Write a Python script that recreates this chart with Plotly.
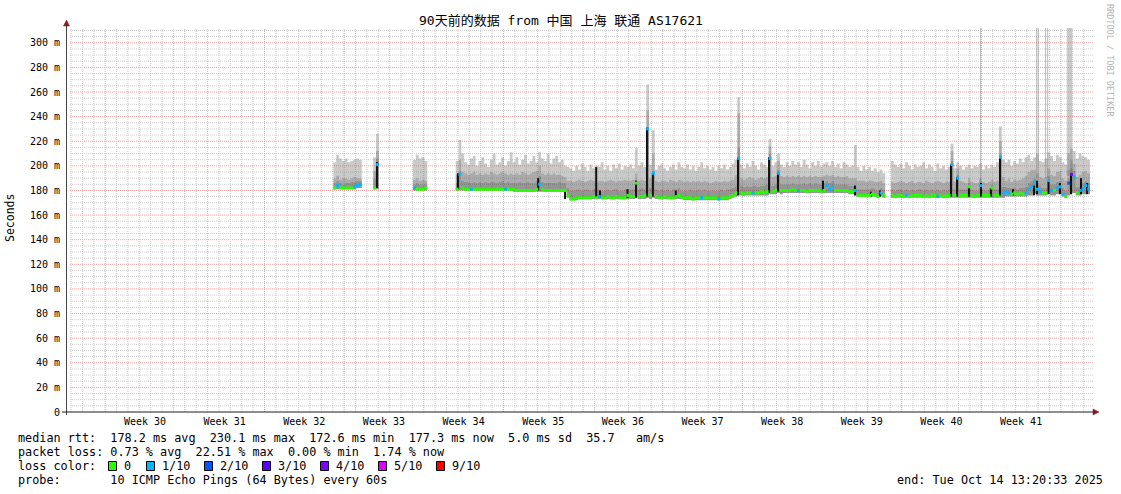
import plotly.graph_objects as go
from datetime import datetime, timedelta

# ---------------- data ----------------
START = datetime(2025, 7, 16, 13, 20, 33)
END = datetime(2025, 10, 14, 13, 20, 33)
STEP_HOURS = 6

TITLE = "90天前的数据 from 中国 上海 联通 AS17621"
week_labels = ["Week %d" % n for n in range(30, 42)]
first_week_start = datetime(2025, 7, 20)

# contiguous runs of samples on the 6-hour grid (start index, length)
seg_start = [94, 108, 122, 137, 290]
seg_len = [10, 2, 5, 151, 70]

ping_lo = [
    181, 181, 181, 181, 181, 181, 181, 181, 182, 182,
    181, 181,
    180, 180, 180, 180, 180,
    180, 180, 180, 180, 180, 180, 180, 180, 180, 180,
    180, 180, 180, 180, 180, 180, 180, 180, 180, 180,
    179, 179, 179, 179, 179, 179, 179, 179, 179, 179,
    179, 179, 179, 179, 179, 179, 179, 179, 179, 174,
    172, 172, 172, 173, 173, 173, 173, 173, 173, 173,
    173, 173, 173, 173, 173, 173, 173, 173, 173, 173,
    173, 173, 173, 174, 173, 173, 173, 174, 173, 174,
    173, 173, 173, 173, 173, 173, 173, 173, 173, 173,
    172, 172, 172, 172, 172, 172, 172, 172, 172, 172,
    172, 172, 172, 172, 172, 172, 173, 174, 175, 176,
    176, 176, 176, 176, 176, 176, 176, 176, 176, 176,
    177, 177, 177, 178, 177, 178, 178, 178, 178, 178,
    178, 178, 178, 178, 178, 178, 178, 178, 178, 178,
    178, 178, 178, 178, 178, 178, 178, 178, 177, 177,
    176, 175, 175, 175, 175, 175, 175, 175, 174, 175, 174,
    174, 174, 174, 174, 174, 174, 174, 174, 174, 174,
    174, 174, 174, 174, 174, 174, 174, 174, 174, 174,
    174, 174, 174, 174, 174, 174, 174, 174, 174, 174,
    174, 174, 174, 174, 174, 174, 174, 174, 174, 174,
    175, 175, 175, 175, 175, 175, 175, 175, 176, 176,
    177, 176, 176, 176, 176, 177, 176, 176, 177, 177,
    175, 174, 176, 178, 178, 176, 176, 177, 177, 177,
]
ping_med = [
    182, 184, 182, 182, 182, 182, 182, 183, 184, 185,
    182, 201,
    182, 181, 181, 181, 182,
    181, 193, 182, 181, 181, 181, 181, 181, 181, 181,
    181, 181, 181, 181, 181, 181, 181, 181, 181, 181,
    181, 180, 180, 180, 180, 180, 180, 180, 181, 185,
    181, 180, 180, 180, 180, 180, 180, 180, 180, 176,
    173, 173, 174, 174, 174, 174, 174, 174, 175, 174,
    175, 174, 174, 175, 174, 174, 175, 174, 174, 174,
    176, 175, 175, 186, 175, 175, 176, 230, 176, 194,
    175, 174, 174, 175, 174, 174, 174, 175, 176, 174,
    174, 174, 174, 173, 174, 174, 174, 174, 174, 174,
    174, 174, 173, 174, 174, 174, 175, 176, 178, 206,
    178, 177, 178, 178, 178, 178, 178, 179, 178, 179,
    206, 179, 180, 194, 180, 180, 180, 180, 181, 180,
    180, 180, 180, 179, 180, 180, 180, 180, 179, 180,
    184, 181, 183, 180, 180, 180, 180, 180, 179, 179,
    180, 176, 176, 176, 176, 176, 177, 176, 175, 178, 176,
    176, 175, 176, 176, 175, 176, 175, 176, 176, 176,
    176, 175, 176, 175, 176, 176, 175, 176, 175, 176,
    176, 201, 176, 190, 176, 176, 176, 183, 176, 175,
    176, 184, 176, 176, 176, 182, 176, 176, 207, 178,
    179, 178, 177, 178, 177, 178, 177, 178, 181, 183,
    187, 181, 179, 178, 178, 188, 180, 180, 182, 183,
    177, 175, 186, 193, 191, 178, 180, 181, 184, 181,
]
smoke_dark = [
    186, 188, 186, 185, 186, 186, 187, 187, 188, 188,
    190, 206,
    185, 186, 185, 185, 185,
    186, 196, 188, 187, 187, 186, 187, 186, 187, 186,
    187, 186, 187, 187, 186, 187, 188, 186, 187, 186,
    186, 186, 187, 186, 186, 187, 186, 186, 188, 192,
    187, 186, 186, 186, 186, 186, 187, 186, 186, 182,
    180, 180, 181, 181, 180, 181, 181, 180, 181, 181,
    181, 180, 180, 181, 180, 181, 181, 180, 180, 181,
    181, 181, 181, 188, 181, 182, 181, 232, 182, 196,
    181, 180, 181, 180, 181, 180, 181, 181, 182, 180,
    180, 180, 181, 180, 180, 181, 180, 181, 180, 180,
    180, 180, 180, 181, 180, 181, 181, 182, 184, 215,
    184, 183, 184, 183, 184, 184, 183, 184, 184, 185,
    210, 184, 185, 197, 185, 185, 185, 185, 186, 185,
    185, 185, 186, 185, 186, 185, 186, 185, 185, 186,
    188, 186, 188, 185, 185, 185, 185, 185, 184, 184,
    184, 181, 181, 181, 181, 181, 182, 181, 180, 182, 181,
    181, 180, 181, 181, 180, 181, 180, 181, 180, 181,
    181, 180, 181, 180, 181, 180, 181, 180, 181, 180,
    181, 204, 181, 193, 181, 181, 181, 186, 181, 180,
    180, 187, 181, 180, 181, 185, 181, 181, 210, 183,
    183, 182, 182, 182, 181, 182, 182, 183, 186, 188,
    190, 186, 184, 182, 182, 192, 185, 185, 187, 188,
    182, 180, 190, 198, 196, 183, 184, 186, 188, 186,
]
smoke_mid = [
    190, 192, 189, 190, 190, 189, 190, 191, 190, 190,
    196, 212,
    189, 190, 188, 189, 188,
    193, 205, 195, 194, 193, 194, 195, 193, 194, 193,
    194, 193, 195, 194, 193, 194, 195, 194, 193, 194,
    193, 194, 193, 195, 194, 193, 194, 195, 196, 200,
    194, 193, 194, 193, 194, 193, 193, 192, 191, 188,
    188, 187, 188, 189, 188, 187, 188, 189, 188, 187,
    188, 188, 187, 188, 189, 188, 187, 188, 188, 189,
    188, 188, 189, 194, 188, 189, 188, 245, 190, 210,
    188, 187, 188, 188, 187, 189, 188, 187, 189, 188,
    187, 188, 187, 188, 187, 188, 187, 188, 187, 186,
    187, 188, 187, 187, 188, 187, 188, 189, 193, 243,
    190, 189, 190, 191, 190, 189, 190, 191, 190, 191,
    216, 191, 192, 204, 192, 191, 192, 191, 192, 191,
    192, 191, 192, 191, 192, 191, 192, 191, 191, 192,
    193, 192, 193, 191, 192, 191, 191, 192, 190, 190,
    190, 188, 188, 188, 187, 188, 188, 187, 187, 188, 186,
    187, 186, 187, 188, 187, 186, 187, 188, 186, 187,
    187, 186, 188, 187, 186, 187, 188, 187, 186, 187,
    187, 212, 187, 198, 188, 187, 186, 190, 187, 186,
    186, 190, 187, 186, 187, 189, 187, 188, 220, 191,
    188, 190, 187, 189, 188, 189, 190, 192, 195, 197,
    197, 194, 191, 190, 191, 198, 193, 192, 195, 196,
    190, 188, 197, 205, 202, 191, 193, 195, 196, 194,
]
ping_hi = [
    203, 209, 206, 204, 206, 203, 204, 205, 206, 205,
    207, 226,
    205, 209, 206, 207, 204,
    204, 221, 210, 203, 201, 206, 208, 200, 204, 207,
    202, 199, 205, 210, 201, 203, 207, 200, 204, 211,
    203, 207, 201, 205, 209, 202, 204, 208, 203, 211,
    206, 204, 210, 202, 206, 208, 203, 205, 200, 199,
    198, 196, 200, 197, 202, 199, 196, 201, 198, 200,
    199, 203, 197, 200, 196, 201, 198, 202, 197, 200,
    199, 201, 198, 215, 200, 203, 199, 266, 201, 229,
    197, 200, 202, 198, 196, 199, 201, 197, 203, 199,
    198, 201, 197, 200, 196, 199, 203, 198, 200, 197,
    199, 196, 200, 198, 201, 197, 199, 202, 205, 256,
    201, 198, 202, 199, 204, 200, 197, 203, 201, 199,
    222, 200, 203, 210, 201, 199, 203, 200, 204, 201,
    203, 199, 205, 201, 198, 203, 200, 204, 199, 202,
    203, 200, 204, 199, 202, 198, 203, 201, 199, 200,
    217, 199, 196, 200, 197, 199, 196, 198, 195, 197, 194,
    204, 201, 199, 202, 198, 203, 200, 197, 201, 199,
    200, 203, 198, 201, 199, 196, 202, 198, 200, 197,
    199, 218, 198, 203, 200, 197, 199, 201, 198, 200,
    199, 202, 197, 200, 198, 201, 199, 203, 232, 205,
    203, 205, 200, 204, 202, 206, 203, 207, 209, 204,
    207, 210, 204, 203, 206, 211, 208, 204, 209, 207,
    203, 201, 210, 214, 212, 206, 210, 208, 207, 205,
]
loss = [
    0, 1, 0, 0, 0, 0, 0, 1, 1, 1,
    0, 1,
    1, 0, 0, 0, 0,
    0, 1, 0, 0, 0, 1, 0, 0, 0, 0,
    0, 0, 0, 0, 0, 0, 0, 1, 0, 0,
    0, 0, 0, 0, 0, 0, 0, 0, 0, 1,
    0, 0, 0, 0, 0, 0, 0, 0, 0, 0,
    0, 0, 0, 0, 0, 0, 0, 0, 0, 0,
    1, 0, 0, 0, 0, 0, 0, 0, 0, 0,
    0, 0, 0, 0, 0, 0, 0, 1, 0, 1,
    0, 0, 0, 0, 0, 0, 0, 0, 0, 0,
    0, 0, 0, 0, 0, 0, 1, 0, 0, 0,
    0, 0, 1, 0, 0, 0, 0, 0, 0, 1,
    0, 0, 0, 0, 1, 0, 0, 0, 0, 0,
    1, 0, 0, 1, 0, 0, 0, 0, 0, 0,
    1, 0, 0, 0, 0, 0, 0, 0, 0, 0,
    1, 1, 1, 0, 0, 0, 0, 0, 0, 0,
    1, 0, 0, 0, 0, 0, 0, 0, 0, 1, 0,
    0, 0, 0, 0, 0, 1, 0, 0, 0, 0,
    0, 0, 0, 0, 0, 0, 1, 0, 0, 0,
    0, 1, 0, 1, 0, 0, 0, 0, 0, 0,
    0, 1, 0, 0, 0, 0, 0, 0, 1, 1,
    1, 1, 0, 0, 0, 0, 0, 1, 1, 1,
    1, 1, 1, 0, 0, 1, 1, 0, 1, 1,
    1, 0, 2, 4, 1, 0, 1, 1, 1, 1,
]

# dense (black) smoke columns: day offset from START, bottom and top (ms)
spike_day = [27.33, 34.45, 41.5, 43.86, 46.6, 46.93, 49.35, 50.1, 51.06, 51.58,
             53.60, 59.06, 61.79, 62.58, 66.53, 69.34, 70.75, 71.54, 77.78, 78.31,
             79.36, 80.42, 81.29, 82.09, 83.23, 85.08, 85.34, 86.35, 87.36, 88.33,
             89.21, 89.74]
spike_base = [182, 181, 180, 173, 174, 174, 174, 174, 175, 175,
              174, 176, 178, 179, 179, 176, 175, 175, 175, 175,
              175, 175, 175, 176, 176, 176, 177, 177, 177, 177,
              177, 177]
spike_top = [203, 194, 190, 181, 199, 180, 181, 188, 231, 194,
             180, 207, 207, 194, 188, 184, 179, 180, 201, 191,
             183, 186, 182, 207, 181, 184, 188, 188, 186, 194,
             190, 186]

# isolated very high single pings (reach the top of the graph)
tall_day = [80.39, 85.31, 85.45, 86.10, 86.28]
tall_base = [186, 190, 190, 190, 190]
tall_top = [312, 312, 312, 312, 312]
band_day = [88.20]
band_base = [192]
band_top = [312]

loss_levels = [0, 1, 2, 3, 4, 5, 9]
loss_labels = ["0", "1/10", "2/10", "3/10", "4/10", "5/10", "9/10"]
loss_colors = ["#26ff00", "#00b8ff", "#0059ff", "#5e00ff", "#7e00ff", "#dd00ff", "#ff0000"]

rtt_line = "median rtt:  178.2 ms avg  230.1 ms max  172.6 ms min  177.3 ms now  5.0 ms sd  35.7   am/s"
loss_line = "packet loss: 0.73 % avg  22.51 % max  0.00 % min  1.74 % now"
probe_line = "probe:       10 ICMP Echo Pings (64 Bytes) every 60s"
end_line = "end: Tue Oct 14 13:20:33 2025"

# ---------------- layout geometry (pixels) ----------------
W, H = 1121, 494
PL, PR, PT, PB = 66, 1090, 28, 412
YMAX = 312


def px(x):
    return (x - PL) / (PR - PL)


def py(y):
    return (PB - y) / (PB - PT)


def t_of(i):
    return START + timedelta(hours=STEP_HOURS * i)


def day_t(d):
    return START + timedelta(days=d)


n_total = sum(seg_len)
for arr in (ping_lo, ping_med, smoke_dark, smoke_mid, ping_hi, loss):
    assert len(arr) == n_total, len(arr)
assert len(spike_day) == len(spike_base) == len(spike_top)


def band(lower, upper):
    xs, ys = [], []
    pos = 0
    for s, n in zip(seg_start, seg_len):
        ux, uy, ly = [], [], []
        for k in range(n):
            t0, t1 = t_of(s + k), t_of(s + k + 1)
            ux += [t0, t1]
            uy += [upper[pos + k]] * 2
            ly += [lower[pos + k]] * 2
        xs += ux + ux[::-1] + [None]
        ys += uy + ly[::-1] + [None]
        pos += n
    return xs, ys


fig = go.Figure()


def vlines(days, bases, tops):
    xs, ys = [], []
    for d, b, t in zip(days, bases, tops):
        xs += [day_t(d), day_t(d), None]
        ys += [b, t, None]
    return xs, ys


# tall single-ping outliers
x, y = vlines(tall_day, tall_base, tall_top)
fig.add_trace(go.Scatter(x=x, y=y, mode="lines", line=dict(color="rgba(120,120,120,0.5)", width=1),
                         hoverinfo="skip"))
x, y = vlines(band_day, band_base, band_top)
fig.add_trace(go.Scatter(x=x, y=y, mode="lines", line=dict(color="rgba(128,128,128,0.42)", width=5.5),
                         hoverinfo="skip"))

# smoke: three non-overlapping translucent bands so the grid shows through
for lower, upper, col in ((smoke_mid, ping_hi, "rgba(128,128,128,0.42)"),
                          (smoke_dark, smoke_mid, "rgba(100,100,100,0.54)"),
                          (ping_lo, smoke_dark, "rgba(70,70,70,0.58)")):
    x, y = band(lower, upper)
    fig.add_trace(go.Scatter(x=x, y=y, mode="lines", fill="toself", fillcolor=col,
                             line=dict(width=0, color=col), hoverinfo="skip"))

# dense black columns
x, y = vlines(spike_day, spike_base, spike_top)
fig.add_trace(go.Scatter(x=x, y=y, mode="lines", line=dict(color="#111111", width=2),
                         hoverinfo="skip"))

# median coloured by loss
for lvl, col in zip(loss_levels, loss_colors):
    xs, ys = [], []
    pos = 0
    for s, n in zip(seg_start, seg_len):
        for k in range(n):
            if loss[pos + k] == lvl:
                xs += [t_of(s + k), t_of(s + k + 1), None]
                ys += [ping_med[pos + k]] * 2 + [None]
        pos += n
    if xs:
        fig.add_trace(go.Scatter(x=xs, y=ys, mode="lines", line=dict(color=col, width=3),
                                 hoverinfo="skip"))

# ---------------- grid ----------------
shapes = []
GRID = "#cdcdcd"
MGRID = "#efa3a3"
DASH = "1px,1px"
for v in range(5, 315, 5):
    shapes.append(dict(type="line", xref="paper", yref="y", x0=px(PL + 4), x1=px(1093),
                       y0=v, y1=v, layer="below",
                       line=dict(color=MGRID if v % 20 == 0 else GRID, width=1, dash=DASH)))
d = datetime(2025, 7, 17)
while d < END:
    is_week = d.weekday() == 6
    shapes.append(dict(type="line", xref="x", yref="paper", x0=d, x1=d, y0=0, y1=1,
                       layer="below",
                       line=dict(color=MGRID if is_week else GRID, width=1, dash=DASH)))
    d += timedelta(days=1)

# axes + arrows
AX = "#1f1f1f"
shapes.append(dict(type="line", xref="paper", yref="paper", x0=px(66.5), x1=px(66.5),
                   y0=py(415), y1=py(24), layer="above", line=dict(color="#444", width=1)))
shapes.append(dict(type="line", xref="paper", yref="paper", x0=px(62), x1=px(1094),
                   y0=py(412), y1=py(412), layer="above", line=dict(color=AX, width=1)))


def tri(points):
    p = "M " + " L ".join("%.5f,%.5f" % (px(a), py(b)) for a, b in points) + " Z"
    return p


shapes.append(dict(type="path", xref="paper", yref="paper", layer="above",
                   path=tri([(63.5, 26), (69.5, 26), (66.5, 20)]),
                   fillcolor="#801f1f", line=dict(color="#801f1f", width=0.5)))
shapes.append(dict(type="path", xref="paper", yref="paper", layer="above",
                   path=tri([(1093, 409), (1093, 415), (1099, 412)]),
                   fillcolor="#801f1f", line=dict(color="#801f1f", width=0.5)))

# ---------------- text ----------------
MONO = "DejaVu Sans Mono, Noto Sans CJK SC, monospace"


def nb(s):
    return s.replace(" ", "\u00a0")


ann = []
ann.append(dict(text=nb(TITLE), x=px(560.5), y=py(21), xref="paper", yref="paper",
                xanchor="center", yanchor="middle", showarrow=False,
                font=dict(family=MONO, size=13, color="black")))
ann.append(dict(text="Seconds", x=px(10), y=py(218), xref="paper", yref="paper",
                xanchor="center", yanchor="middle", showarrow=False, textangle=-90,
                font=dict(family=MONO, size=11.5, color="black")))
ann.append(dict(text=nb("RRDTOOL / TOBI OETIKER"), x=px(1110), y=py(60), xref="paper",
                yref="paper", xanchor="center", yanchor="middle", showarrow=False,
                textangle=90, font=dict(family=MONO, size=8.5, color="#b4b4b4")))
LEG = 11.8
for txt, yy in ((rtt_line, 438), (loss_line, 452), ("loss color:", 466), (probe_line, 480)):
    ann.append(dict(text=nb(txt), x=px(16), y=py(yy), xref="paper", yref="paper",
                    xanchor="left", yanchor="middle", showarrow=False,
                    font=dict(family=MONO, size=LEG, color="black")))
ann.append(dict(text=nb(end_line), x=px(1105), y=py(480), xref="paper", yref="paper",
                xanchor="right", yanchor="middle", showarrow=False,
                font=dict(family=MONO, size=LEG, color="black")))

for k, (lab, col) in enumerate(zip(loss_labels, loss_colors)):
    sx = 108 if k == 0 else 146 + 58 * (k - 1)
    shapes.append(dict(type="rect", xref="paper", yref="paper",
                       x0=px(sx + 0.5), x1=px(sx + 8.5), y0=py(470.5), y1=py(461.5),
                       fillcolor=col, line=dict(color="black", width=1)))
    ann.append(dict(text=lab, x=px(sx + 14), y=py(466), xref="paper", yref="paper",
                    xanchor="left", yanchor="middle", showarrow=False,
                    font=dict(family=MONO, size=LEG, color="black")))

week_mid = [first_week_start + timedelta(days=7 * k + 3.5) for k in range(len(week_labels))]

fig.update_layout(
    width=W, height=H,
    margin=dict(l=PL, r=W - PR, t=PT, b=H - PB, pad=0, autoexpand=False),
    paper_bgcolor="white", plot_bgcolor="white",
    showlegend=False,
    shapes=shapes, annotations=ann,
    font=dict(family=MONO, size=10, color="black"),
    xaxis=dict(type="date", range=[START, END], tickmode="array", tickvals=week_mid,
               ticktext=week_labels, showgrid=False, zeroline=False, showline=False,
               ticks="", tickfont=dict(family=MONO, size=10, color="black"),
               ticklabelstandoff=2, fixedrange=True),
    yaxis=dict(range=[0, YMAX], tickmode="array", tickvals=list(range(0, 301, 20)),
               ticktext=["0"] + ["%d m" % v for v in range(20, 301, 20)],
               showgrid=False, zeroline=False, showline=False, ticks="",
               tickfont=dict(family=MONO, size=10, color="black"),
               ticklabelstandoff=5, fixedrange=True),
)

fig.write_html("out.html", config={"displayModeBar": False},
               post_script="document.body.style.margin='0px';")
